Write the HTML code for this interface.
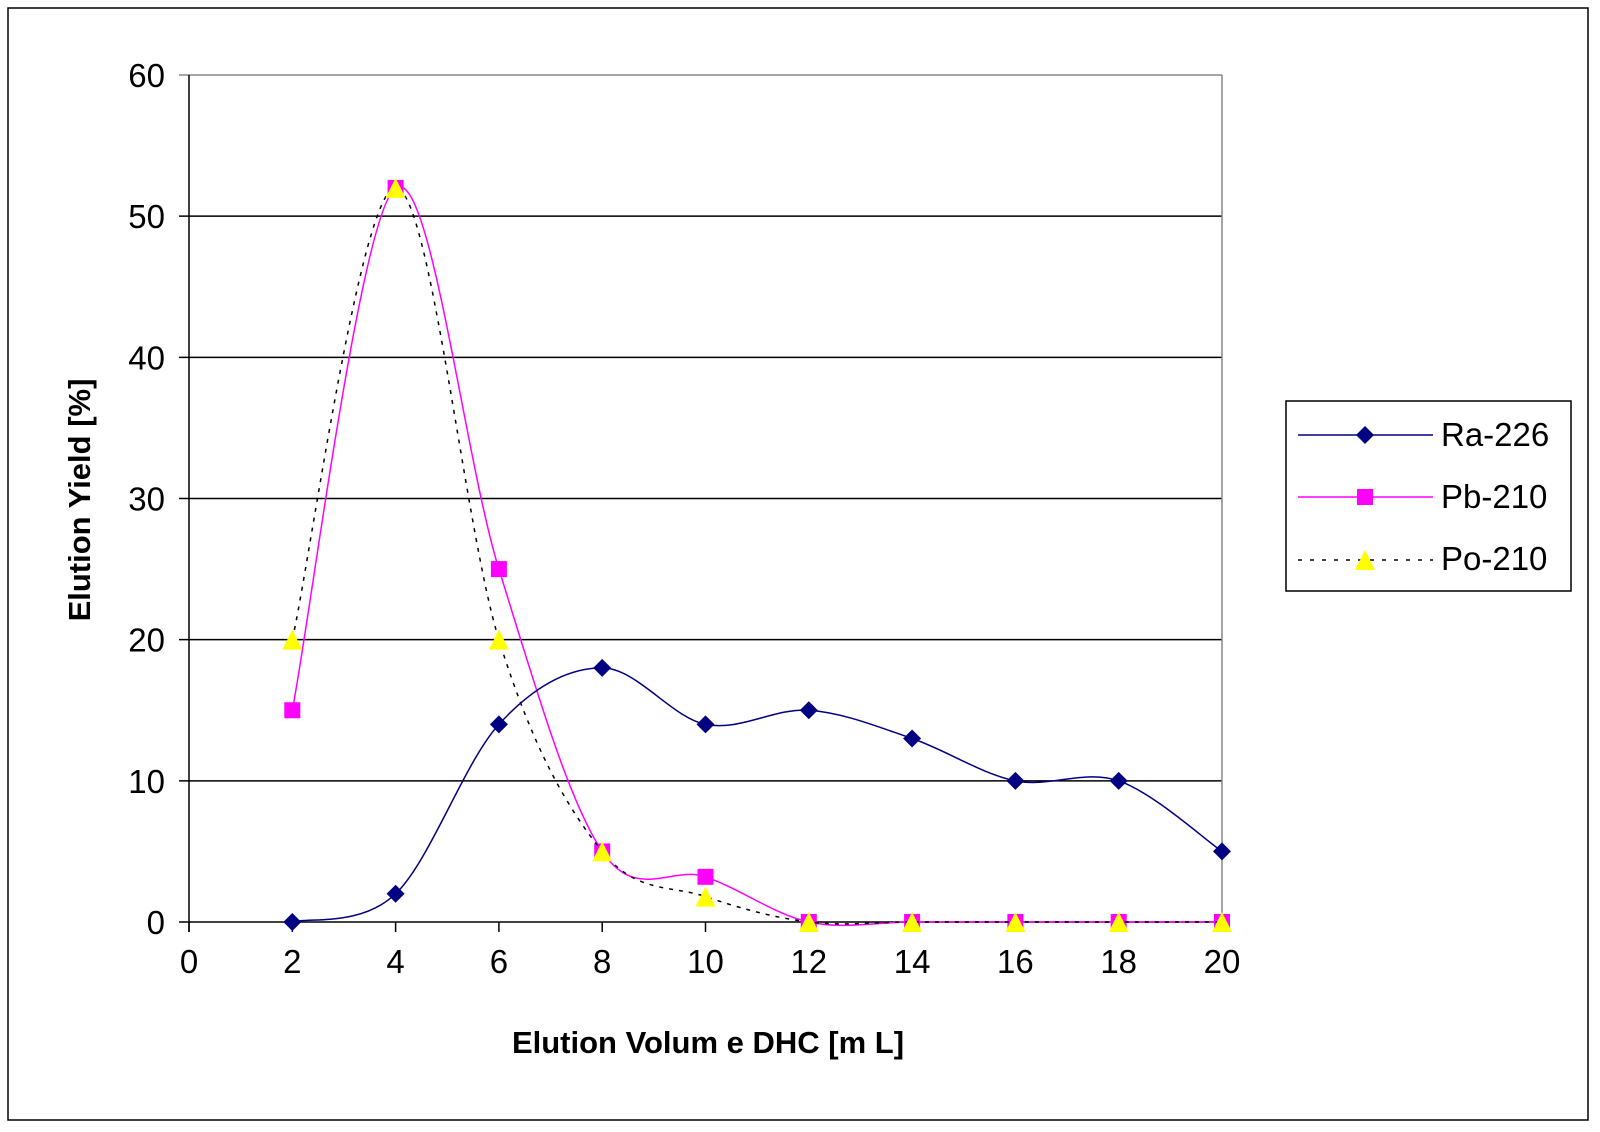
<!DOCTYPE html>
<html><head><meta charset="utf-8"><style>
body{margin:0;background:#fff}
svg{display:block;font-family:"Liberation Sans",sans-serif}
</style></head><body>
<svg id="c" width="1600" height="1132">
<rect x="8" y="8" width="1580" height="1112" fill="#fff" stroke="#000" stroke-width="1.5"/>
<g id="plot"></g>
<text x="708" y="1053" font-size="31" font-weight="bold" text-anchor="middle">Elution Volum e DHC [m L]</text>
<text transform="translate(90,500) rotate(-90)" font-size="31" font-weight="bold" text-anchor="middle">Elution Yield [%]</text>
<g>
<rect x="1286" y="401" width="285" height="190" fill="#fff" stroke="#000" stroke-width="1.5"/>
<g>
<line x1="1298" y1="435" x2="1433" y2="435" stroke="#000080" stroke-width="1.5"/>
<path d="M1365 426 L1374 435 L1365 444 L1356 435Z" fill="#000080"/>
<text x="1441" y="446" font-size="33">Ra-226</text></g>
<g>
<line x1="1298" y1="497" x2="1433" y2="497" stroke="#ff00ff" stroke-width="1.5"/>
<rect x="1357" y="489" width="16" height="16" fill="#ff00ff"/>
<text x="1441" y="508" font-size="33">Pb-210</text></g>
<g>
<line x1="1298" y1="560" x2="1433" y2="560" stroke="#000" stroke-width="1.5" stroke-dasharray="4,8"/>
<path d="M1365 550 L1375 570 L1355 570Z" fill="#ffff00"/>
<text x="1441" y="570" font-size="33">Po-210</text></g>
</g>
</svg>
<script>
const xValues=[2,4,6,8,10,12,14,16,18,20];
const ra226=[0,2,14,18,14,15,13,10,10,5];
const pb210=[15,52,25,5,3.2,0,0,0,0,0];
const po210=[20,52,20,5,1.8,0,0,0,0,0];
const xTicks=[0,2,4,6,8,10,12,14,16,18,20];
const yTicks=[0,10,20,30,40,50,60];
const L=189,R=1222,T=75,B=922;
const sx=v=>L+(v-0)/20*(R-L), sy=v=>B-v/60*(B-T);
const NS="http://www.w3.org/2000/svg", g=document.getElementById('plot');
function mk(t,a,p){const e=document.createElementNS(NS,t);for(const k in a)e.setAttribute(k,a[k]);(p||g).appendChild(e);return e;}
yTicks.forEach(v=>{
 const ln=mk('line',{x1:L-10,x2:R,y1:sy(v),y2:sy(v),stroke:v==60?'#888':'#000','stroke-width':1.5});
 
 
 const t=mk('text',{x:L-24,y:sy(v)+12,'font-size':33,'text-anchor':'end'});t.textContent=v;
 
 
});
mk('line',{x1:R,x2:R,y1:T,y2:B,stroke:'#888','stroke-width':1.5});
mk('line',{x1:L,x2:L,y1:T,y2:B+10,stroke:'#000','stroke-width':1.5});
xTicks.forEach(v=>{
 mk('line',{x1:sx(v),x2:sx(v),y1:B,y2:B+10,stroke:'#000','stroke-width':1.5});
 const t=mk('text',{x:sx(v),y:B+51,'font-size':33,'text-anchor':'middle'});t.textContent=v;
 
 
});
function smooth(ys){
 const p=xValues.map((x,i)=>[sx(x),sy(ys[i])]);let d='M'+p[0];
 for(let i=0;i<p.length-1;i++){const p0=p[i-1]||p[i],p1=p[i],p2=p[i+1],p3=p[i+2]||p2;
  const c1=[p1[0]+(p2[0]-p0[0])/6,p1[1]+(p2[1]-p0[1])/6],c2=[p2[0]-(p3[0]-p1[0])/6,p2[1]-(p3[1]-p1[1])/6];
  d+=' C'+c1+' '+c2+' '+p2;}
 return d;}
function series(ys,color,dash,marker,name){
 const pa=mk('path',{d:smooth(ys),fill:'none',stroke:color,'stroke-width':1.5});
 if(dash)pa.setAttribute('stroke-dasharray',dash);
 
 
 ys.forEach((v,i)=>{const x=sx(xValues[i]),y=sy(v);let m;
  if(marker=='d')m=mk('path',{d:`M${x} ${y-9}L${x+9} ${y}L${x} ${y+9}L${x-9} ${y}Z`,fill:'#000080'});
  else if(marker=='s')m=mk('rect',{x:x-8,y:y-8,width:16,height:16,fill:'#ff00ff'});
  else m=mk('path',{d:`M${x} ${y-10}L${x+10} ${y+10}L${x-10} ${y+10}Z`,fill:'#ffff00'});
  
  });
}
series(pb210,'#ff00ff',null,'s','pb210');
series(po210,'#000','4,6','t','po210');
series(ra226,'#000080',null,'d','ra226');
</script>
</body></html>
